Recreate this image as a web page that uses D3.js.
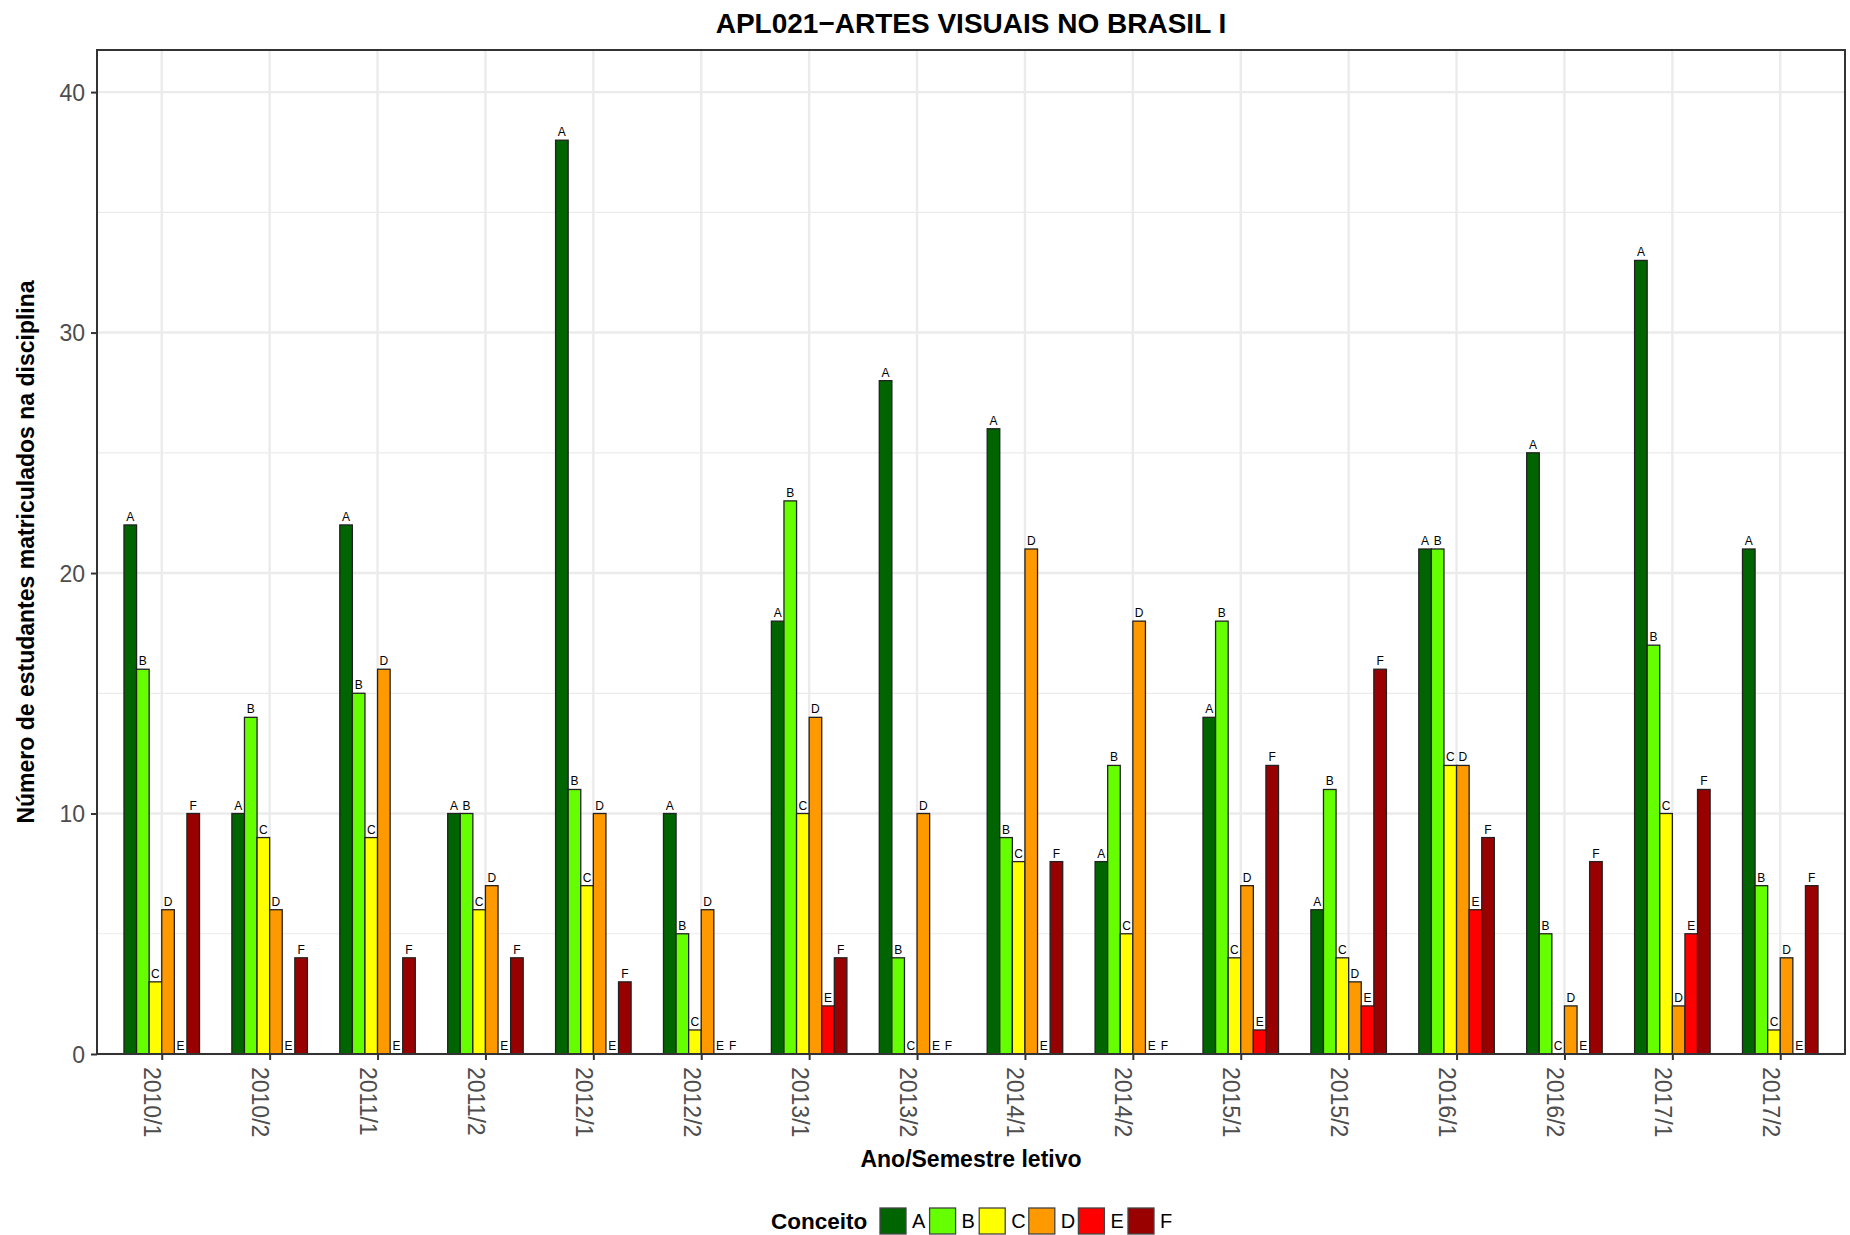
<!DOCTYPE html>
<html><head><meta charset="utf-8">
<script src="https://cdn.jsdelivr.net/npm/d3@7"></script>
<style>
body{margin:0;background:#fff}
svg{display:block}
text{font-family:"Liberation Sans",Arial,Helvetica,sans-serif}
</style>
</head><body>
<svg id="chart" width="1850" height="1235"></svg>
<script>
// ---- data ----
const semesters = ["2010/1","2010/2","2011/1","2011/2","2012/1","2012/2","2013/1","2013/2",
                   "2014/1","2014/2","2015/1","2015/2","2016/1","2016/2","2017/1","2017/2"];
const concepts = ["A","B","C","D","E","F"];
const countsA = [22,10,22,10,38,10,18,28,26, 8,14, 6,21,25,33,21];
const countsB = [16,14,15,10,11, 5,23, 4, 9,12,18,11,21, 5,17, 7];
const countsC = [ 3, 9, 9, 6, 7, 1,10, 0, 8, 5, 4, 4,12, 0,10, 1];
const countsD = [ 6, 6,16, 7,10, 6,14,10,21,18, 7, 3,12, 2, 2, 4];
const countsE = [ 0, 0, 0, 0, 0, 0, 2, 0, 0, 0, 1, 2, 6, 0, 5, 0];
const countsF = [10, 4, 4, 4, 3, 0, 4, 0, 8, 0,12,16, 9, 8,11, 7];
const conceptColors = ["#006400","#66FF00","#FFFF00","#FF9900","#FF0000","#990000"];
const yMajorTicks = [0,10,20,30,40];
const yMinorTicks = [5,15,25,35];
const titleText = "APL021\u2212ARTES VISUAIS NO BRASIL I";
const xTitle = "Ano/Semestre letivo";
const yTitle = "N\u00famero de estudantes matriculados na disciplina";
const legendTitle = "Conceito";

const seriesValues = [countsA,countsB,countsC,countsD,countsE,countsF];
const rows = [];
semesters.forEach((s,i)=>concepts.forEach((c,j)=>rows.push({sem:s, conc:c, val:seriesValues[j][i]})));

// ---- layout ----
const svg = d3.select("#chart");
const P = {left:97, right:1845, top:50, bottom:1054};

const x = d3.scalePoint().domain(semesters).range([P.left,P.right]).padding(0.6);
const step = x.step();
const xInner = d3.scaleBand().domain(concepts).range([-0.35*step, 0.35*step]).padding(0);
const y = d3.scaleLinear().domain([0, 41.75]).range([P.bottom, P.top]);
const color = d3.scaleOrdinal().domain(concepts).range(conceptColors);

// panel bg
svg.append("rect").attr("x",P.left).attr("y",P.top).attr("width",P.right-P.left).attr("height",P.bottom-P.top).attr("fill","#fff");

// grid
const g = svg.append("g");
g.selectAll(".minor").data(yMinorTicks).join("line")
  .attr("x1",P.left).attr("x2",P.right).attr("y1",d=>y(d)).attr("y2",d=>y(d))
  .attr("stroke","#EBEBEB").attr("stroke-width",1.2);
g.selectAll(".major").data(yMajorTicks).join("line")
  .attr("x1",P.left).attr("x2",P.right).attr("y1",d=>y(d)).attr("y2",d=>y(d))
  .attr("stroke","#EBEBEB").attr("stroke-width",2.4);
g.selectAll(".vmajor").data(semesters).join("line")
  .attr("x1",d=>x(d)).attr("x2",d=>x(d)).attr("y1",P.top).attr("y2",P.bottom)
  .attr("stroke","#EBEBEB").attr("stroke-width",2.4);

// bars
svg.append("g").selectAll("rect").data(rows.filter(r=>r.val>0)).join("rect")
  .attr("x",d=>x(d.sem)+xInner(d.conc))
  .attr("width",xInner.bandwidth())
  .attr("y",d=>y(d.val))
  .attr("height",d=>y(0)-y(d.val))
  .attr("fill",d=>color(d.conc))
  .attr("stroke","#222").attr("stroke-width",1.3);

// bar labels
svg.append("g").selectAll("text").data(rows).join("text")
  .attr("x",d=>x(d.sem)+xInner(d.conc)+xInner.bandwidth()/2)
  .attr("y",d=>y(d.val)-4)
  .attr("text-anchor","middle")
  .attr("font-size",12)
  .attr("fill","#000")
  .text(d=>d.conc);

// panel border
svg.append("rect").attr("x",P.left).attr("y",P.top).attr("width",P.right-P.left).attr("height",P.bottom-P.top)
  .attr("fill","none").attr("stroke","#333").attr("stroke-width",2);

// y axis
const yAxis = svg.append("g").attr("transform",`translate(${P.left},0)`)
  .call(d3.axisLeft(y).tickValues(yMajorTicks).tickSize(6).tickPadding(6).tickFormat(d3.format("d")));
yAxis.select(".domain").remove();
yAxis.selectAll(".tick line").attr("stroke","#333").attr("stroke-width",2);
yAxis.selectAll(".tick text").attr("font-size",23).attr("fill","#4D4D4D")
  .attr("font-family",'"Liberation Sans",Arial,sans-serif').attr("dy","0.36em");

// x axis
const xAxis = svg.append("g").attr("transform",`translate(0,${P.bottom})`)
  .call(d3.axisBottom(x).tickSize(6).tickFormat(""));
xAxis.select(".domain").remove();
xAxis.selectAll(".tick line").attr("stroke","#333").attr("stroke-width",2);
xAxis.selectAll(".tick").append("text")
  .attr("transform","translate(-18,13) rotate(90)")
  .attr("text-anchor","start")
  .attr("font-size",23).attr("fill","#4D4D4D")
  .attr("font-family",'"Liberation Sans",Arial,sans-serif')
  .text(d=>d);

// titles
const midX = (P.left+P.right)/2;
svg.append("text").attr("x",midX).attr("y",33).attr("text-anchor","middle")
  .attr("font-size",28).attr("font-weight","bold").attr("fill","#000").text(titleText);
svg.append("text").attr("x",midX).attr("y",1167).attr("text-anchor","middle")
  .attr("font-size",23).attr("font-weight","bold").attr("fill","#000").text(xTitle);
svg.append("text").attr("transform",`translate(34,${(P.top+P.bottom)/2}) rotate(-90)`).attr("text-anchor","middle")
  .attr("font-size",23).attr("font-weight","bold").attr("fill","#000").text(yTitle);

// legend
const leg = svg.append("g");
const legY = 1221;
leg.append("text").attr("x",771).attr("y",legY).attr("dy","0.36em")
  .attr("font-size",22.5).attr("font-weight","bold").attr("fill","#000").text(legendTitle);
const keyX = d3.scalePoint().domain(concepts).range([880, 880+5*49.6]);
const items = leg.selectAll(".item").data(concepts).join("g")
  .attr("transform",d=>`translate(${keyX(d)},${legY-13})`);
items.append("rect").attr("width",26).attr("height",26)
  .attr("fill",d=>color(d)).attr("stroke","#444").attr("stroke-width",1.3);
items.append("text").attr("x",32).attr("y",13).attr("dy","0.36em")
  .attr("font-size",20).attr("fill","#000").text(d=>d);
</script>
</body></html>
